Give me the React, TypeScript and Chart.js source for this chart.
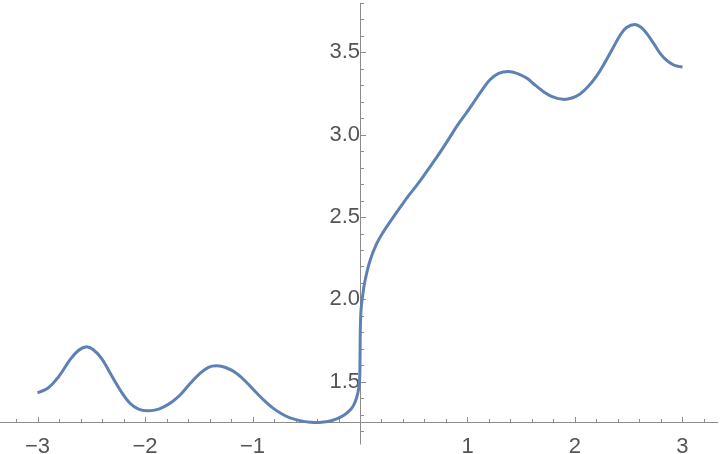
import React, { useEffect, useRef } from "react";
import { Chart, registerables } from "chart.js";

Chart.register(...registerables);

// Curve samples
const xValues = [
  -3.0, -2.9, -2.8, -2.7, -2.62, -2.55, -2.48, -2.4, -2.326, -2.233, -2.14, -2.06,
  -1.98, -1.9, -1.83, -1.75, -1.674, -1.58, -1.488, -1.41, -1.333, -1.25, -1.147,
  -1.05, -0.961, -0.88, -0.806, -0.73, -0.651, -0.55, -0.45, -0.4, -0.3, -0.217,
  -0.15, -0.093, -0.06, -0.031, -0.012, -0.003, 0.0, 0.003, 0.01, 0.025,
  0.047, 0.093, 0.155, 0.217, 0.31, 0.388, 0.45, 0.527, 0.6, 0.682, 0.76, 0.837,
  0.9, 0.993, 1.06, 1.13, 1.209, 1.29, 1.38, 1.46, 1.55, 1.63, 1.705, 1.8, 1.891,
  1.97, 2.047, 2.12, 2.2, 2.28, 2.357, 2.42, 2.48, 2.558, 2.62, 2.667, 2.73, 2.79,
  2.85, 2.914, 2.96, 3.0,
];
const yValues = [
  1.433, 1.463, 1.535, 1.632, 1.69, 1.712, 1.695, 1.638, 1.555, 1.452, 1.37, 1.335,
  1.324, 1.33, 1.347, 1.378, 1.42, 1.49, 1.551, 1.588, 1.597, 1.587, 1.551,
  1.493, 1.432, 1.38, 1.339, 1.306, 1.281, 1.263, 1.254, 1.253, 1.259, 1.275,
  1.297, 1.328, 1.357, 1.405, 1.46, 1.52, 1.62, 1.82, 1.94, 2.025,
  2.115, 2.235, 2.338, 2.41, 2.5, 2.572, 2.628, 2.692, 2.757, 2.833, 2.908, 2.985,
  3.05, 3.135, 3.198, 3.265, 3.333, 3.372, 3.383, 3.372, 3.343, 3.3, 3.262, 3.227, 3.214,
  3.222, 3.247, 3.29, 3.355, 3.44, 3.53, 3.603, 3.65, 3.668, 3.648, 3.614, 3.555, 3.495,
  3.452, 3.424, 3.414, 3.411,
];

const xTickValues = [-3, -2, -1, 1, 2, 3];
const xTickLabels = ["−3", "−2", "−1", "1", "2", "3"];
const yTickValues = [1.5, 2.0, 2.5, 3.0, 3.5];
const yTickLabels = ["1.5", "2.0", "2.5", "3.0", "3.5"];

const X_MIN = -3.349;
const X_MAX = 3.349;
const Y_MIN = 1.062;
const Y_MAX = 3.817;
const AXIS_CROSS_Y = 1.254;
const AXIS_CROSS_X = 0;

const LINE_COLOR = "#5E81B5";
const AXIS_COLOR = "#8c8c8c";
const LABEL_COLOR = "#555555";
const LABEL_FONT = { size: 22, family: "Arial, 'Liberation Sans', sans-serif" };

function labelFor(values: number[], labels: string[], v: number) {
  for (let i = 0; i < values.length; i++) {
    if (Math.abs(values[i] - v) < 1e-6) return labels[i];
  }
  return "";
}

function zeroFit(s: any) {
  if (s.isHorizontal()) s.height = 0;
  else s.width = 0;
  s.paddingTop = 0;
  s.paddingBottom = 0;
  s.paddingLeft = 0;
  s.paddingRight = 0;
}

const axesPlugin = {
  id: "mmaAxes",
  beforeDatasetsDraw(chart: any) {
    const { ctx } = chart;
    const xs = chart.scales.x;
    const ys = chart.scales.y;
    const ax = Math.round(xs.getPixelForValue(AXIS_CROSS_X));
    const ay = Math.round(ys.getPixelForValue(AXIS_CROSS_Y));
    ctx.save();
    ctx.strokeStyle = AXIS_COLOR;
    ctx.lineWidth = 1;
    ctx.beginPath();
    ctx.moveTo(xs.getPixelForValue(X_MIN), ay + 0.5);
    ctx.lineTo(xs.getPixelForValue(3.33), ay + 0.5);
    ctx.stroke();
    ctx.beginPath();
    ctx.moveTo(ax + 0.5, ys.getPixelForValue(3.8));
    ctx.lineTo(ax + 0.5, ys.getPixelForValue(1.12));
    ctx.stroke();
    for (let k = -16; k <= 16; k++) {
      const v = k * 0.2;
      if (k === 0) continue;
      const major = k % 5 === 0;
      const px = Math.round(xs.getPixelForValue(v)) + 0.5;
      const len = major ? 5 : 3;
      ctx.beginPath();
      ctx.moveTo(px, ay);
      ctx.lineTo(px, ay - len);
      ctx.stroke();
    }
    for (let k = 12; k <= 38; k++) {
      const v = k * 0.1;
      const major = k % 5 === 0;
      const py = Math.round(ys.getPixelForValue(v)) + 0.5;
      const len = major ? 5 : 3;
      ctx.beginPath();
      ctx.moveTo(ax + 1, py);
      ctx.lineTo(ax + 1 + len, py);
      ctx.stroke();
    }
    ctx.restore();
  },
};

export default function App() {
  const canvasRef = useRef<HTMLCanvasElement | null>(null);

  useEffect(() => {
    document.body.style.margin = "0";
    const canvas = canvasRef.current;
    if (!canvas) return;
    const data = xValues.map((x, i) => ({ x, y: yValues[i] }));
    const chart = new Chart(canvas, {
      type: "line",
      data: {
        datasets: [
          {
            data,
            borderColor: LINE_COLOR,
            borderWidth: 3,
            pointRadius: 0,
            fill: false,
            tension: 0.4,
          },
        ],
      },
      options: {
        animation: false,
        responsive: false,
        maintainAspectRatio: false,
        layout: { padding: 0 },
        plugins: { legend: { display: false }, tooltip: { enabled: false } },
        scales: {
          x: {
            type: "linear",
            min: X_MIN,
            max: X_MAX,
            position: { y: AXIS_CROSS_Y },
            afterFit: zeroFit,
            grid: { display: false },
            border: { display: false },
            ticks: {
              stepSize: 1,
              includeBounds: false,
              autoSkip: false,
              maxRotation: 0,
              padding: 3,
              color: LABEL_COLOR,
              font: LABEL_FONT,
              callback: (v: any) => labelFor(xTickValues, xTickLabels, Number(v)),
            },
          },
          y: {
            type: "linear",
            min: Y_MIN,
            max: Y_MAX,
            position: { x: AXIS_CROSS_X },
            afterFit: zeroFit,
            grid: { display: false },
            border: { display: false },
            ticks: {
              stepSize: 0.5,
              includeBounds: false,
              autoSkip: false,
              padding: 7,
              color: LABEL_COLOR,
              font: LABEL_FONT,
              callback: (v: any) => labelFor(yTickValues, yTickLabels, Number(v)),
            },
          },
        },
      } as any,
      plugins: [axesPlugin],
    });
    return () => chart.destroy();
  }, []);

  return (
    <div style={{ width: 720, height: 454 }}>
      <canvas ref={canvasRef} width={720} height={454} style={{ display: "block" }} />
    </div>
  );
}
